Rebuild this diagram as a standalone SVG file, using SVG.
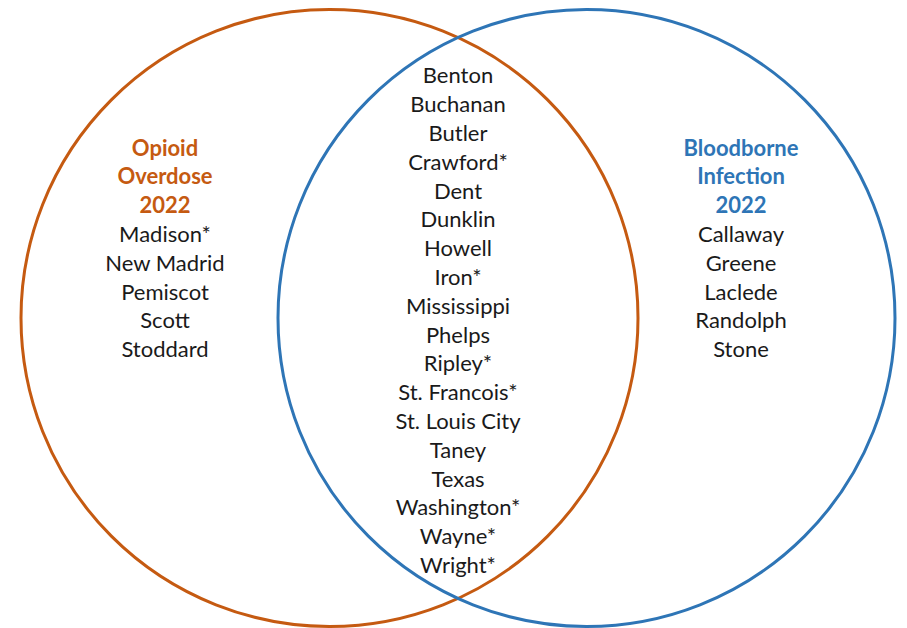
<svg xmlns="http://www.w3.org/2000/svg" width="907" height="628" viewBox="0 0 907 628">
<style>
.c{fill:none;stroke-width:3}
text{font-family:Lato,"Open Sans","Liberation Sans",sans-serif;font-size:22px;text-anchor:middle;fill:#1a1a1a}
.t{font-weight:bold}
.o{fill:#C55A11}
.b{fill:#2E75B6}
</style>
<rect width="907" height="628" fill="#fff"/>
<g id="connectors"></g>
<g id="opioid">
<circle class="c" cx="329.5" cy="318" r="308.5" stroke="#C55A11"/>
<text class="t o" x="165" y="155.5">Opioid</text>
<text class="t o" x="165" y="184.3">Overdose</text>
<text class="t o" x="165" y="213.1">2022</text>
<text x="165" y="241.9">Madison*</text>
<text x="165" y="270.7">New Madrid</text>
<text x="165" y="299.5">Pemiscot</text>
<text x="165" y="328.3">Scott</text>
<text x="165" y="357.1">Stoddard</text>
</g>
<g id="bloodborne">
<circle class="c" cx="586.5" cy="318" r="308.5" stroke="#2E75B6"/>
<text class="t b" x="741" y="155.5">Bloodborne</text>
<text class="t b" x="741" y="184.3">Infection</text>
<text class="t b" x="741" y="213.1">2022</text>
<text x="741" y="241.9">Callaway</text>
<text x="741" y="270.7">Greene</text>
<text x="741" y="299.5">Laclede</text>
<text x="741" y="328.3">Randolph</text>
<text x="741" y="357.1">Stone</text>
</g>
<g id="both">
<text x="458" y="83.3">Benton</text>
<text x="458" y="112.1">Buchanan</text>
<text x="458" y="140.9">Butler</text>
<text x="458" y="169.7">Crawford*</text>
<text x="458" y="198.5">Dent</text>
<text x="458" y="227.3">Dunklin</text>
<text x="458" y="256.1">Howell</text>
<text x="458" y="284.9">Iron*</text>
<text x="458" y="313.7">Mississippi</text>
<text x="458" y="342.5">Phelps</text>
<text x="458" y="371.3">Ripley*</text>
<text x="458" y="400.1">St. Francois*</text>
<text x="458" y="428.9">St. Louis City</text>
<text x="458" y="457.7">Taney</text>
<text x="458" y="486.5">Texas</text>
<text x="458" y="515.3">Washington*</text>
<text x="458" y="544.1">Wayne*</text>
<text x="458" y="572.9">Wright*</text>
</g>
</svg>
